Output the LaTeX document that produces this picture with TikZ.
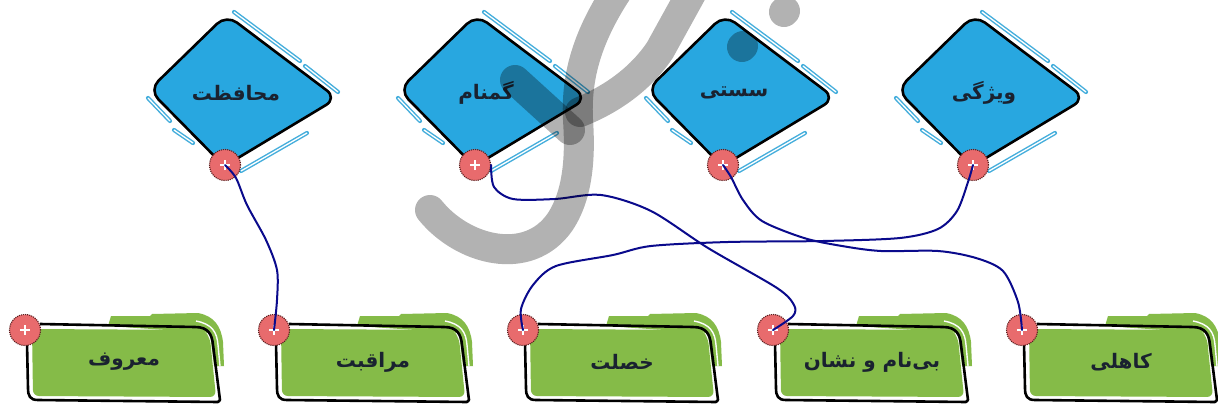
\documentclass[tikz,border=0pt]{standalone}
\usepackage{fontspec}
\TeXXeTstate=1
\newfontfamily\arabicfont[Script=Arabic]{DejaVu Sans}
\usetikzlibrary{calc}
\definecolor{dblue}{HTML}{28A7E0}
\definecolor{sblue}{HTML}{45AEDC}
\definecolor{lgreen}{HTML}{85BB48}
\definecolor{pinred}{HTML}{E86B6D}
\definecolor{pinring}{HTML}{5A1E1E}
\definecolor{navy}{HTML}{0A0A8C}
\definecolor{inkc}{HTML}{1A2230}
\tikzset{
  dlabel/.style={font=\arabicfont\bfseries\fontsize{20}{24}\selectfont, text=inkc, inner sep=0pt},
  blabel/.style={font=\arabicfont\bfseries\fontsize{20}{24}\selectfont, text=inkc, inner sep=0pt},
  pinnode/.style={circle, minimum size=31pt, inner sep=0pt, fill=pinred, draw=pinring, densely dotted, line width=1.1pt,
    path picture={\draw[white, solid, line width=2.4pt] ([xshift=-5pt]path picture bounding box.center) -- ([xshift=5pt]path picture bounding box.center);
                  \draw[white, solid, line width=2.4pt] ([yshift=-5pt]path picture bounding box.center) -- ([yshift=5pt]path picture bounding box.center);}},
  link/.style={navy, line width=2pt, line cap=round},
  wmark/.style={black, opacity=0.3, line width=30pt, line cap=round},
  outl/.style={black, line width=2.6pt, line join=round},
  sketchb/.style={sblue, line width=4.2pt, line cap=round},
  sketchw/.style={white, line width=1.3pt},
}
\newcommand\dshape{(190,54) -- (227,18) -- (333,98) -- (225,163) -- (153,90) -- cycle}
\newcommand\sketchseg[2]{\draw[sketchb] #1 -- #2; \draw[sketchw] #1 -- #2;}
\newcommand\bluediamond[3]{%
  \begin{scope}[shift={(#1,0)}]
    \sketchseg{(234,12)}{(300,61)}
    \sketchseg{(305,66)}{(338,92)}
    \sketchseg{(148,98)}{(170,121)}
    \sketchseg{(174,130)}{(193,143)}
    \sketchseg{(241,171)}{(307,133)}
    \fill[dblue, rounded corners=13, scale around={1.045:(240,92)}] \dshape;
    \draw[outl, rounded corners=13, scale around={1.045:(240,92)}] \dshape;
    \node[dlabel] (d#2) at (236,93) {\beginR #3\endR};
    \node[pinnode] (dp#2) at (225,165) {};
  \end{scope}}
\newcommand\greenbox[3]{%
  \begin{scope}[shift={(#1,0)}]
    \fill[lgreen] (108,326) -- (111,316) -- (150,316) -- (152,314) -- (198,313) .. controls (214,316) and (221,326) .. (223,342) -- (224,366) -- (214,366) -- (210,333) -- cycle;
    \fill[lgreen, rounded corners=6] (32,329) -- (204,330) -- (210,338) -- (216,397) -- (33,396) -- cycle;
    \draw[white, line width=1.4pt] (196,321) .. controls (212,324) and (217,332) .. (218,345) -- (220,366);
    \draw[outl] (40,324) -- (195,327) .. controls (208,327) and (212,334) .. (213,345) -- (220,400) -- (218,402) -- (38,400) .. controls (30,400) and (28,396) .. (28,388) -- (27,343);
    \node[blabel] (b#2) at (124,362) {\beginR #3\endR};
    \node[pinnode] (bp#2) at (25,330) {};
  \end{scope}}
\begin{document}
\begin{tikzpicture}[x=1pt, y=-1pt]
  \fill[white] (0,0) rectangle (1218,412);
  \useasboundingbox (0,0) rectangle (1218,412);
  % top diamonds
  \bluediamond{0}{1}{محافظت}
  \bluediamond{250}{2}{گمنام}
  \bluediamond{498}{3}{سستی}
  \bluediamond{748}{4}{ویژگی}
  % bottom boxes
  \greenbox{0}{1}{معروف}
  \greenbox{249}{2}{مراقبت}
  \greenbox{498}{3}{خصلت}
  \greenbox{748}{4}{بی‌نام و نشان}
  \greenbox{997}{5}{کاهلی}
  % connectors
  \draw[link] plot[smooth] coordinates {(dp1.center) (236,178) (247,205) (266,240) (277,270) (277,300) (bp2.center)};
  \draw[link] plot[smooth] coordinates {(dp2.east) (494,187) (513,199) (555,199) (601,195) (651,211) (708,248) (777,288) (794,305) (793,316) (bp4.center)};
  \draw[link] plot[smooth] coordinates {(dp3.center) (731,177) (743,200) (762,221) (804,238) (842,246) (881,251) (938,251) (976,258) (1003,271) (1018,302) (bp5.center)};
  \draw[link] plot[smooth] coordinates {(dp4.center) (968,182) (957,211) (938,229) (900,238) (823,241) (728,242) (651,246) (613,255) (556,266) (533,285) (521,309) (bp3.center)};
  % watermark
  \draw[wmark] (430,210) .. controls (462,250) and (528,268) .. (560,222) .. controls (580,192) and (580,150) .. (578,120) .. controls (576,80) and (585,40) .. (618,-10);
  \draw[wmark] (580,112) .. controls (610,100) and (640,80) .. (660,50) -- (692,-8);
  \draw[wmark] (515,80) -- (570,130);
  \draw[wmark] (742,47) -- (743,46);
  \draw[wmark] (784,12) -- (785,11);
\end{tikzpicture}
\end{document}
